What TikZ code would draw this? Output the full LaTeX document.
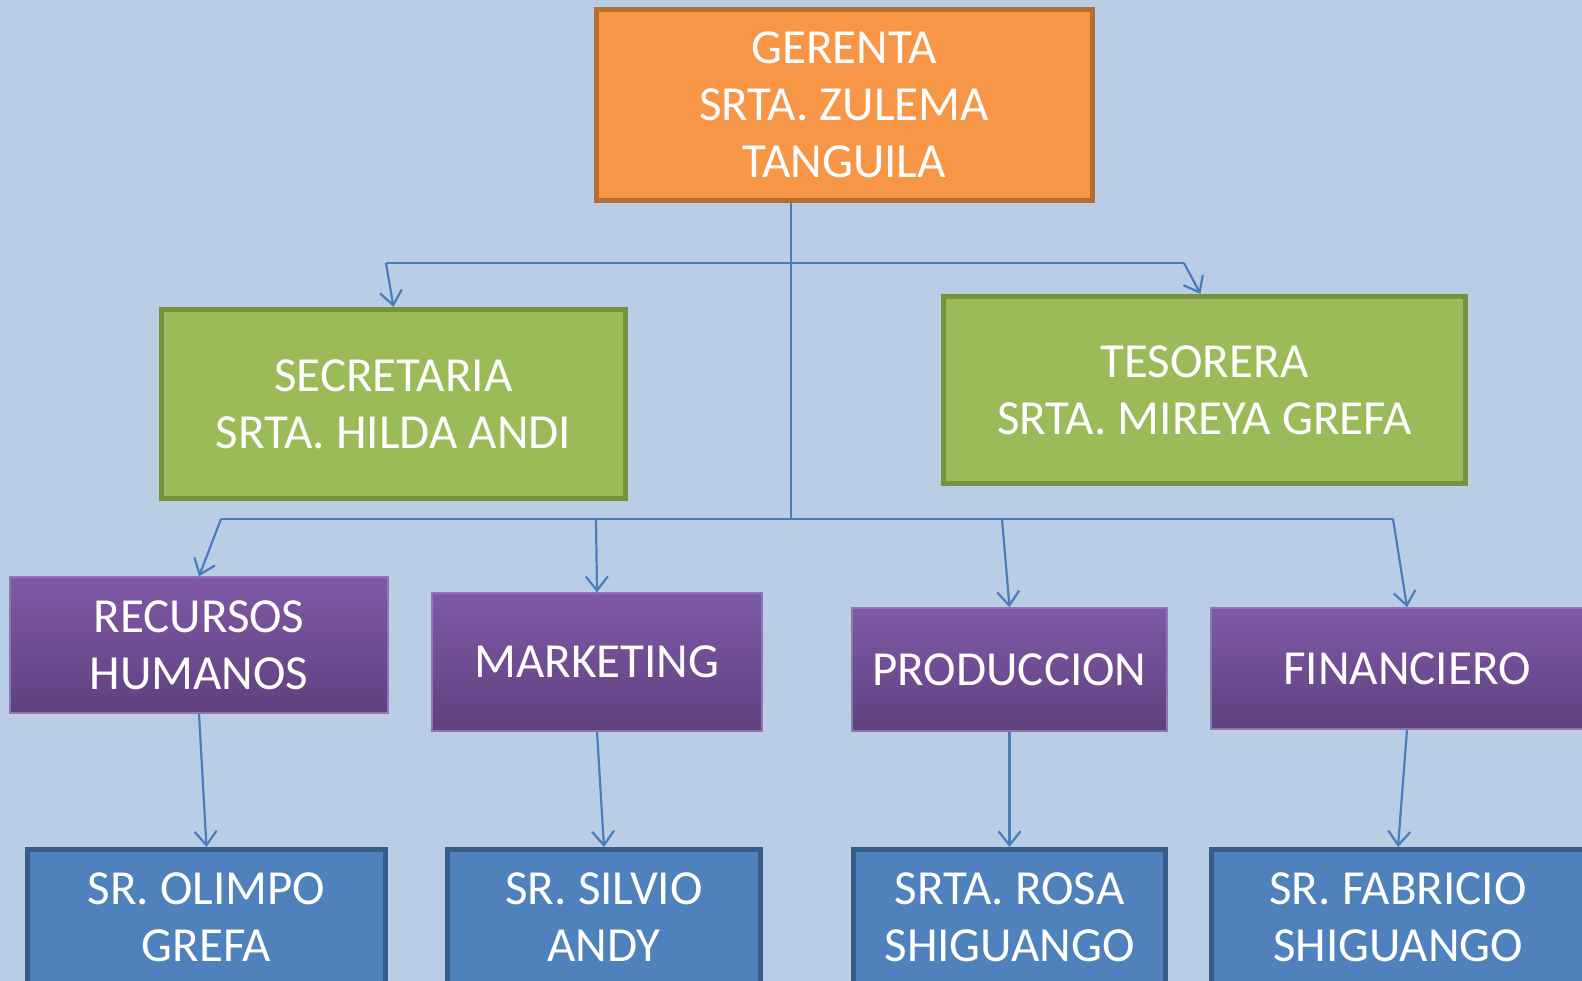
\documentclass[tikz,border=0pt]{standalone}
\usepackage{fontspec}
\setmainfont{Carlito}
\usetikzlibrary{arrows.meta}

\definecolor{fondo}{HTML}{B9CDE5}
\definecolor{naranja}{HTML}{F79646}
\definecolor{naranjaborde}{HTML}{B66D31}
\definecolor{verde}{HTML}{9BBB59}
\definecolor{verdeborde}{HTML}{76923C}
\definecolor{moradoarriba}{HTML}{7F59A6}
\definecolor{moradoabajo}{HTML}{5F417F}
\definecolor{moradoborde}{HTML}{8E77B0}
\definecolor{azul}{HTML}{4F81BD}
\definecolor{azulborde}{HTML}{385D8A}
\definecolor{linea}{HTML}{4A7EBB}

\begin{document}
\begin{tikzpicture}[x=1pt,y=-1pt]
  \tikzstyle{caja}=[rectangle, text centered, align=center, text=white, inner sep=0pt, font=\fontsize{49}{57}\selectfont]
  \tikzstyle{gerencia}=[caja, draw=naranjaborde, fill=naranja, line width=5pt]
  \tikzstyle{apoyo}=[caja, draw=verdeborde, fill=verde, line width=5pt]
  \tikzstyle{area}=[caja, draw=moradoborde, line width=1.5pt, top color=moradoarriba, bottom color=moradoabajo]
  \tikzstyle{persona}=[caja, draw=azulborde, fill=azul, line width=5pt]
  \tikzstyle{linea}=[draw=linea, line width=2.2pt]
  \tikzstyle{flecha}=[linea, -{Straight Barb[length=14pt, width=22pt, line width=2.2pt]}]

  \useasboundingbox (0,0) rectangle (1582,981);
  \clip (0,0) rectangle (1582,981);
  \fill[fondo] (0,0) rectangle (1582,981);

  \node (gerenta) [gerencia, minimum width=496, minimum height=191] at (844,105) {GERENTA\\SRTA. ZULEMA\\TANGUILA};
  \node (secretaria) [apoyo, minimum width=464, minimum height=189] at (393.5,404) {SECRETARIA\\SRTA. HILDA ANDI};
  \node (tesorera) [apoyo, minimum width=522, minimum height=187] at (1204.5,390) {TESORERA\\SRTA. MIREYA GREFA};

  \node (recursos) [area, minimum width=378, minimum height=136] at (199,645) {RECURSOS\\HUMANOS};
  \node (marketing) [area, minimum width=330, minimum height=138] at (597,662) {MARKETING};
  \node (produccion) [area, minimum width=315, minimum height=123] at (1009.5,669.5) {PRODUCCION};
  \node (financiero) [area, minimum width=392, minimum height=121] at (1407,668.5) {FINANCIERO};

  \node (olimpo) [persona, minimum width=358, minimum height=135] at (206.5,917) {SR. OLIMPO\\GREFA};
  \node (silvio) [persona, minimum width=313, minimum height=135] at (604,917) {SR. SILVIO\\ANDY};
  \node (rosa) [persona, minimum width=312, minimum height=135] at (1009.5,917) {SRTA. ROSA\\SHIGUANGO};
  \node (fabricio) [persona, minimum width=373, minimum height=135] at (1398,917) {SR. FABRICIO\\SHIGUANGO};

  % ramas
  \coordinate (sup) at (791,263);
  \coordinate (inf) at (791,519);
  \coordinate (supizq) at (386,263);
  \coordinate (supder) at (1184,263);
  \coordinate (infizq) at (221,519);
  \coordinate (infmkt) at (596,519);
  \coordinate (infprod) at (1002,519);
  \coordinate (infder) at (1393,519);

  \draw [linea] (sup |- gerenta.south) -- (inf);
  \draw [linea] (supizq) -- (supder);
  \draw [linea] (infizq) -- (infder);

  \draw [flecha] (supizq) -- (secretaria.north);
  \draw [flecha] (supder) -- ([xshift=-4pt]tesorera.north);
  \draw [flecha] (infizq) -- (recursos.north);
  \draw [flecha] (infmkt) -- (marketing.north);
  \draw [flecha] (infprod) -- (produccion.north);
  \draw [flecha] (infder) -- (financiero.north);

  \draw [flecha] (recursos.south) -- (olimpo.north);
  \draw [flecha] (marketing.south) -- (silvio.north);
  \draw [flecha] (produccion.south) -- (rosa.north);
  \draw [flecha] (financiero.south) -- (fabricio.north);
\end{tikzpicture}
\end{document}
